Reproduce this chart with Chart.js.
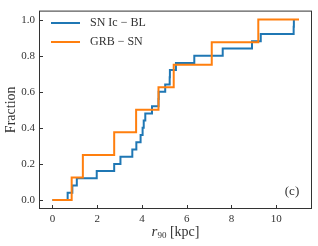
<!DOCTYPE html>
<html>
<head>
<meta charset="utf-8">
<script src="https://cdn.jsdelivr.net/npm/chart.js@4/dist/chart.umd.min.js"></script>
<style>
  html, body { margin: 0; padding: 0; background: #fff; }
  #wrap { width: 318px; height: 246px; }
</style>
</head>
<body>
<div id="wrap"><canvas id="cdfChart"></canvas></div>
<script>
// step positions (kpc) and cumulative fractions
const icblX = [0, 0.68, 0.89, 1.09, 1.98, 2.76, 3.04, 3.57, 3.75, 3.94, 4.03, 4.08, 4.15, 4.45,
  4.74, 4.75, 5.04, 5.24, 5.25, 5.52, 6.34, 7.61, 8.92, 9.31, 10.78, 10.79];
const icblY = [0, 0.04, 0.08, 0.12, 0.16, 0.20, 0.24, 0.28, 0.32, 0.36, 0.40, 0.44, 0.48, 0.52,
  0.56, 0.60, 0.64, 0.68, 0.72, 0.76, 0.80, 0.84, 0.88, 0.92, 0.96, 1.00];

const grbX = [0, 0.86, 1.36, 2.76, 3.74, 4.74, 5.42, 7.12, 9.20, 11.02];
const grbY = [0, 0.125, 0.25, 0.375, 0.5, 0.625, 0.75, 0.875, 1.0, 1.0];

const xTicks = [0, 2, 4, 6, 8, 10];
const yTicks = [0, 0.2, 0.4, 0.6, 0.8, 1.0];

const seriesLabels = ["SN Ic \u2212 BL", "GRB \u2212 SN"];
const seriesColors = ["#1f77b4", "#ff7f0e"];

const serif = "'Liberation Serif', 'DejaVu Serif', serif";
const ink = "#333";

function toPoints(xs, ys) {
  return xs.map((x, i) => ({ x: x, y: ys[i] }));
}

// frame, inward ticks, axis titles, legend and panel label
const decorations = {
  id: "decorations",
  afterDraw(chart) {
    const ctx = chart.ctx;
    const a = chart.chartArea;
    const xs = chart.scales.x;
    const ys = chart.scales.y;
    ctx.save();
    ctx.strokeStyle = ink;
    ctx.lineWidth = 1;
    ctx.strokeRect(a.left + 0.5, a.top + 0.5, a.right - a.left - 1, a.bottom - a.top - 1);

    ctx.beginPath();
    xTicks.forEach((v) => {
      const px = Math.round(xs.getPixelForValue(v)) + 0.5;
      ctx.moveTo(px, a.bottom);
      ctx.lineTo(px, a.bottom - 4);
    });
    yTicks.forEach((v) => {
      const py = Math.round(ys.getPixelForValue(v)) + 0.5;
      ctx.moveTo(a.left, py);
      ctx.lineTo(a.left + 4, py);
    });
    ctx.stroke();

    ctx.fillStyle = ink;
    // y title
    ctx.save();
    ctx.translate(11, (a.top + a.bottom) / 2);
    ctx.rotate(-Math.PI / 2);
    ctx.font = "14px " + serif;
    ctx.textAlign = "center";
    ctx.textBaseline = "middle";
    ctx.fillText("Fraction", 0, 0);
    ctx.restore();

    // x title: r_90 [kpc]
    ctx.textBaseline = "alphabetic";
    ctx.textAlign = "left";
    ctx.font = "italic 15px " + serif;
    const rW = ctx.measureText("r").width;
    ctx.font = "9px " + serif;
    const subW = ctx.measureText("90").width;
    ctx.font = "14px " + serif;
    const restW = ctx.measureText(" [kpc]").width;
    let tx = (a.left + a.right) / 2 - (rW + subW + restW) / 2;
    const base = 236;
    ctx.font = "italic 15px " + serif;
    ctx.fillText("r", tx, base);
    tx += rW;
    ctx.font = "9px " + serif;
    ctx.fillText("90", tx, base + 2);
    tx += subW;
    ctx.font = "14px " + serif;
    ctx.fillText(" [kpc]", tx, base);

    // legend
    ctx.font = "12px " + serif;
    ctx.textBaseline = "middle";
    seriesLabels.forEach((lab, i) => {
      const ly = 23 + i * 19;
      ctx.strokeStyle = seriesColors[i];
      ctx.lineWidth = 2;
      ctx.beginPath();
      ctx.moveTo(51, ly);
      ctx.lineTo(80, ly);
      ctx.stroke();
      ctx.fillText(lab, 90, ly);
    });

    // panel label
    ctx.font = "13px " + serif;
    ctx.textAlign = "center";
    ctx.fillText("(c)", 292, 192);
    ctx.restore();
  }
};

new Chart(document.getElementById("cdfChart"), {
  type: "scatter",
  data: {
    datasets: [
      {
        label: seriesLabels[0],
        data: toPoints(icblX, icblY),
        showLine: true,
        stepped: "before",
        borderColor: seriesColors[0],
        borderWidth: 2,
        pointRadius: 0,
        fill: false,
        order: 2,
      },
      {
        label: seriesLabels[1],
        data: toPoints(grbX, grbY),
        showLine: true,
        stepped: "before",
        borderColor: seriesColors[1],
        borderWidth: 2,
        pointRadius: 0,
        fill: false,
        order: 1,
      },
    ],
  },
  plugins: [decorations],
  options: {
    responsive: true,
    maintainAspectRatio: false,
    animation: false,
    layout: { padding: { top: 5, right: 6, left: 0, bottom: 0 } },
    plugins: {
      legend: { display: false },
      tooltip: { enabled: false },
    },
    scales: {
      x: {
        type: "linear",
        min: -0.6,
        max: 11.6,
        afterBuildTicks: (s) => { s.ticks = xTicks.map((v) => ({ value: v })); },
        afterFit: (s) => { s.height = 37; },
        grid: { display: false, drawTicks: false },
        border: { display: false },
        ticks: {
          color: ink,
          padding: 4,
          maxRotation: 0,
          font: { family: serif, size: 11 },
          callback: (v) => String(v),
        },
      },
      y: {
        type: "linear",
        min: -0.05,
        max: 1.05,
        afterBuildTicks: (s) => { s.ticks = yTicks.map((v) => ({ value: v })); },
        afterFit: (s) => { s.width = 39; },
        grid: { display: false, drawTicks: false },
        border: { display: false },
        ticks: {
          color: ink,
          padding: 4,
          font: { family: serif, size: 11 },
          callback: (v) => Number(v).toFixed(1),
        },
      },
    },
  },
});
</script>
</body>
</html>
